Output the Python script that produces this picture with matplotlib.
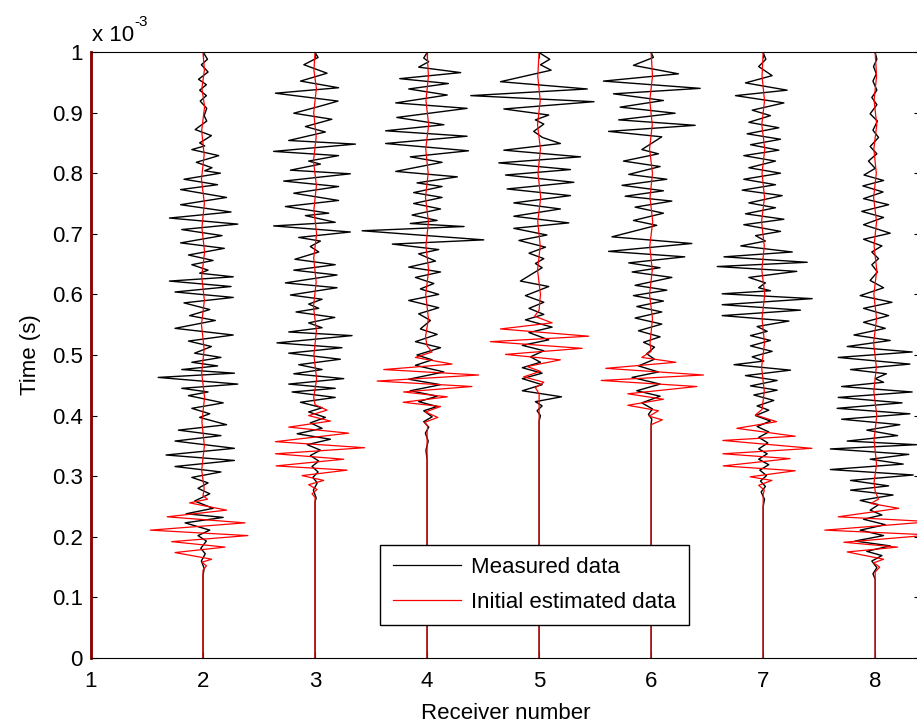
import matplotlib
matplotlib.use('agg')
import matplotlib.pyplot as plt
from matplotlib.lines import Line2D

plt.rcParams['font.family'] = ['Liberation Sans', 'DejaVu Sans']

# receivers and their traces: (time in 1e-3 s, offset from the receiver line)
receivers = [1, 2, 3, 4, 5, 6, 7, 8]

meas_1 = [(0.0, 0.0), (1.0, 0.0)]
est_1 = [(0.0, 0.0), (1.0, 0.0)]

meas_2 = [(1.000, 0), (0.988, 0.04), (0.979, -0.015), (0.967, 0.045), (0.955, -0.04), (0.946, 0.03),
          (0.937, -0.03), (0.928, 0.03), (0.919, -0.025), (0.907, 0.033), (0.895, 0.01), (0.886, 0.033),
          (0.872, -0.07), (0.862, 0.075), (0.850, -0.03), (0.845, 0.015), (0.839, -0.10), (0.829, 0.14),
          (0.818, -0.06), (0.809, 0.08), (0.804, 0.015), (0.800, 0.155), (0.790, -0.17), (0.781, 0.13),
          (0.773, -0.20), (0.760, 0.21), (0.748, -0.20), (0.736, 0.25), (0.726, -0.30), (0.716, 0.31),
          (0.707, -0.19), (0.697, 0.17), (0.685, -0.20), (0.676, 0.19), (0.665, -0.13), (0.656, 0.09),
          (0.649, -0.10), (0.640, 0.045), (0.635, -0.03), (0.629, 0.27), (0.622, -0.30), (0.613, 0.25),
          (0.604, -0.25), (0.595, 0.27), (0.586, -0.17), (0.575, 0.06), (0.565, -0.12), (0.557, 0.11),
          (0.544, -0.25), (0.533, 0.27), (0.523, -0.13), (0.514, 0.075), (0.503, -0.075), (0.496, 0.16),
          (0.488, -0.10), (0.482, 0.13), (0.476, -0.19), (0.470, 0.28), (0.463, -0.40), (0.452, 0.31),
          (0.445, -0.19), (0.439, 0.045), (0.433, -0.13), (0.421, 0.18), (0.412, -0.10), (0.403, 0.06),
          (0.397, -0.03), (0.385, 0.21), (0.376, -0.22), (0.367, 0.16), (0.358, -0.25), (0.346, 0.28),
          (0.335, -0.33), (0.326, 0.28), (0.316, -0.25), (0.307, 0.16), (0.298, -0.10), (0.289, 0.045),
          (0.280, -0.045), (0.271, 0.06), (0.259, -0.075), (0.247, 0.09), (0.238, -0.15), (0.232, 0.18),
          (0.223, -0.16), (0.211, 0.06), (0.202, -0.045), (0.193, 0.03), (0.181, -0.02), (0.172, 0.02),
          (0.160, -0.015), (0.148, 0.01), (0.136, 0), (0.0, 0)]

meas_3 = [(0.999, 0), (0.991, 0.027), (0.979, -0.10), (0.965, 0.107), (0.952, -0.13), (0.941, 0.21),
          (0.932, -0.354), (0.919, 0.205), (0.910, 0.033), (0.899, -0.19), (0.889, 0.15), (0.877, -0.086),
          (0.868, 0.092), (0.854, -0.235), (0.848, 0.36), (0.836, -0.37), (0.829, 0.21), (0.820, -0.057),
          (0.815, 0.048), (0.805, -0.22), (0.799, 0.315), (0.787, -0.28), (0.778, 0.21), (0.767, -0.19),
          (0.755, 0.21), (0.745, -0.265), (0.734, 0.122), (0.730, -0.086), (0.719, 0.18), (0.713, -0.37),
          (0.703, 0.315), (0.694, -0.146), (0.688, 0.048), (0.679, -0.042), (0.670, 0.033), (0.658, -0.18),
          (0.649, 0.18), (0.640, -0.19), (0.632, 0.196), (0.619, -0.265), (0.611, 0.196), (0.599, -0.22),
          (0.592, 0.063), (0.584, -0.057), (0.577, 0.033), (0.571, -0.17), (0.562, 0.176), (0.553, -0.057),
          (0.545, 0.063), (0.538, -0.235), (0.532, 0.33), (0.520, -0.34), (0.512, 0.24), (0.503, -0.235),
          (0.493, 0.226), (0.484, -0.146), (0.476, 0.063), (0.469, -0.19), (0.461, 0.256), (0.452, -0.235),
          (0.445, 0.18), (0.439, -0.205), (0.430, 0.18), (0.422, -0.13), (0.413, 0.063), (0.406, -0.057),
          (0.397, 0.092), (0.388, -0.042), (0.379, 0.063), (0.370, -0.16), (0.361, 0.137), (0.352, -0.07),
          (0.343, 0.048), (0.334, -0.042), (0.325, 0.033), (0.316, -0.027), (0.307, 0.027), (0.298, -0.02),
          (0.289, 0.02), (0.277, -0.015), (0.264, 0.01), (0.258, 0), (0.0, 0)]

meas_4 = [(0.999, 0), (0.990, -0.03), (0.984, 0.015), (0.975, -0.075), (0.966, 0.30), (0.956, -0.244),
          (0.948, 0.19), (0.939, -0.164), (0.929, 0.18), (0.916, -0.28), (0.907, 0.357), (0.892, -0.27),
          (0.880, 0.15), (0.870, -0.37), (0.861, 0.357), (0.849, -0.37), (0.837, 0.37), (0.827, -0.15),
          (0.818, 0.134), (0.803, -0.28), (0.794, 0.27), (0.784, -0.09), (0.778, 0.134), (0.768, -0.12),
          (0.760, 0.134), (0.750, -0.12), (0.741, 0.12), (0.731, -0.134), (0.722, 0.09), (0.717, -0.15),
          (0.712, 0.33), (0.705, -0.58), (0.690, 0.506), (0.683, -0.31), (0.674, 0.104), (0.667, -0.075),
          (0.655, 0.075), (0.645, -0.164), (0.637, 0.12), (0.628, -0.104), (0.618, 0.06), (0.609, -0.06),
          (0.600, 0.104), (0.590, -0.164), (0.578, 0.104), (0.568, -0.075), (0.557, 0.03), (0.543, -0.06),
          (0.534, 0.09), (0.522, -0.104), (0.512, 0.12), (0.500, -0.09), (0.492, 0.045), (0.483, -0.104),
          (0.472, 0.15), (0.460, -0.164), (0.451, 0.12), (0.441, -0.15), (0.432, 0.09), (0.423, -0.075),
          (0.415, 0.09), (0.408, -0.03), (0.398, 0.045), (0.390, -0.03), (0.381, 0.015), (0.371, -0.015),
          (0.358, 0.01), (0.343, -0.01), (0.327, 0), (0.0, 0)]

meas_5 = [(0.999, 0), (0.988, 0.095), (0.979, 0.012), (0.970, 0.107), (0.951, -0.345), (0.939, 0.43),
          (0.928, -0.61), (0.918, 0.49), (0.906, -0.315), (0.896, 0.086), (0.888, -0.033), (0.881, 0.042),
          (0.869, -0.048), (0.859, 0.03), (0.849, 0.19), (0.838, -0.315), (0.827, 0.37), (0.817, -0.36),
          (0.806, 0.28), (0.797, -0.30), (0.785, 0.31), (0.774, -0.286), (0.763, 0.28), (0.751, -0.226),
          (0.741, 0.19), (0.729, -0.226), (0.718, 0.265), (0.709, -0.226), (0.698, 0.07), (0.689, -0.18),
          (0.678, 0.057), (0.668, -0.09), (0.659, 0.042), (0.651, -0.033), (0.644, 0.027), (0.622, -0.167),
          (0.613, 0.086), (0.598, -0.122), (0.587, 0.042), (0.577, -0.09), (0.567, 0.042), (0.558, -0.122),
          (0.546, 0.116), (0.537, -0.09), (0.525, 0.086), (0.516, -0.15), (0.507, 0.042), (0.497, -0.077),
          (0.488, 0.012), (0.479, -0.15), (0.470, 0.027), (0.461, -0.15), (0.451, 0.027), (0.441, -0.15),
          (0.431, 0.20), (0.423, -0.033), (0.416, 0.027), (0.408, -0.018), (0.400, 0.012), (0.391, 0),
          (0.0, 0)]

meas_6 = [(0.999, 0), (0.991, 0.02), (0.978, -0.158), (0.964, 0.244), (0.952, -0.426), (0.940, 0.4375),
          (0.931, -0.336), (0.920, 0.11), (0.909, -0.277), (0.899, 0.214), (0.888, -0.29), (0.879, 0.393),
          (0.869, -0.38), (0.860, 0.095), (0.839, -0.083), (0.832, 0.065), (0.820, -0.247), (0.811, 0.08),
          (0.798, -0.20), (0.790, 0.14), (0.780, -0.26), (0.771, 0.11), (0.762, -0.232), (0.754, 0.185),
          (0.744, -0.143), (0.734, 0.11), (0.722, -0.158), (0.714, 0.05), (0.695, -0.35), (0.684, 0.363),
          (0.671, -0.38), (0.662, 0.30), (0.652, -0.20), (0.644, 0.08), (0.637, -0.17), (0.628, 0.185),
          (0.615, -0.143), (0.607, 0.14), (0.598, -0.158), (0.589, 0.11), (0.580, -0.128), (0.571, 0.095),
          (0.561, -0.143), (0.551, 0.095), (0.540, -0.113), (0.530, 0.08), (0.521, -0.068), (0.513, 0.03),
          (0.502, -0.039), (0.493, 0.03), (0.482, -0.113), (0.472, 0.065), (0.463, -0.17), (0.452, 0.08),
          (0.441, -0.128), (0.432, 0.08), (0.421, -0.083), (0.411, 0.012), (0.402, -0.024), (0.394, 0.006),
          (0.387, 0), (0.0, 0)]

meas_7 = [(0.999, 0), (0.988, 0.024), (0.976, -0.04), (0.961, 0.08), (0.949, -0.158), (0.937, 0.214),
          (0.928, -0.247), (0.916, 0.185), (0.904, -0.098), (0.895, 0.065), (0.884, -0.128), (0.875, 0.14),
          (0.865, -0.143), (0.856, 0.155), (0.847, -0.113), (0.838, 0.14), (0.829, -0.173), (0.820, 0.11),
          (0.809, -0.128), (0.800, 0.155), (0.790, -0.173), (0.781, 0.11), (0.772, -0.1875), (0.763, 0.17),
          (0.751, -0.128), (0.743, 0.11), (0.733, -0.158), (0.724, 0.185), (0.715, -0.173), (0.704, 0.155),
          (0.697, -0.068), (0.688, 0.02), (0.680, -0.20), (0.670, 0.26), (0.662, -0.35), (0.653, 0.393),
          (0.646, -0.41), (0.638, 0.30), (0.628, -0.128), (0.619, 0.02), (0.611, -0.04), (0.606, 0.065),
          (0.601, -0.366), (0.593, 0.4375), (0.583, -0.366), (0.574, 0.333), (0.565, -0.366), (0.556, 0.23),
          (0.547, -0.054), (0.539, 0.036), (0.532, -0.113), (0.524, 0.065), (0.515, -0.113), (0.506, 0.08),
          (0.497, -0.098), (0.490, 0.006), (0.484, -0.26), (0.475, 0.244), (0.466, -0.158), (0.458, 0.125),
          (0.449, -0.113), (0.442, 0.125), (0.434, -0.083), (0.425, 0.095), (0.416, -0.054), (0.409, 0.05),
          (0.400, -0.068), (0.391, 0.065), (0.382, -0.054), (0.373, 0.05), (0.364, -0.04), (0.355, 0.042),
          (0.345, -0.04), (0.337, 0.036), (0.328, -0.04), (0.319, 0.05), (0.310, -0.03), (0.301, 0.03),
          (0.292, -0.024), (0.283, 0.02), (0.274, -0.018), (0.262, 0.012), (0.250, 0), (0.0, 0)]

meas_8 = [(0.999, 0), (0.988, 0.015), (0.976, -0.015), (0.964, 0.01), (0.952, -0.02), (0.937, 0.015),
          (0.925, -0.03), (0.913, 0.015), (0.898, -0.045), (0.886, 0.02), (0.871, -0.02), (0.859, 0.03),
          (0.844, -0.045), (0.832, 0.015), (0.820, -0.06), (0.808, 0.0), (0.797, -0.10), (0.788, 0.075),
          (0.779, -0.11), (0.769, 0.07), (0.758, -0.104), (0.748, 0.12), (0.737, -0.12), (0.727, 0.075),
          (0.715, -0.104), (0.701, 0.134), (0.691, -0.104), (0.680, 0.06), (0.670, -0.03), (0.659, 0.03),
          (0.649, -0.03), (0.637, 0.02), (0.623, -0.045), (0.611, 0.075), (0.598, -0.134), (0.587, 0.15),
          (0.577, -0.104), (0.565, 0.12), (0.554, -0.104), (0.544, 0.09), (0.533, -0.19), (0.524, 0.134),
          (0.514, -0.25), (0.505, 0.33), (0.496, -0.33), (0.485, 0.31), (0.476, -0.22), (0.469, 0.10),
          (0.461, 0.0), (0.455, 0.075), (0.448, -0.30), (0.439, 0.33), (0.430, -0.33), (0.421, 0.24),
          (0.412, -0.34), (0.403, 0.31), (0.394, -0.30), (0.385, 0.22), (0.376, -0.075), (0.367, 0.20),
          (0.358, -0.25), (0.352, 0.37), (0.345, -0.40), (0.336, 0.30), (0.328, -0.045), (0.320, 0.25),
          (0.311, -0.40), (0.302, 0.34), (0.293, -0.22), (0.284, 0.12), (0.277, -0.22), (0.269, 0.16),
          (0.260, -0.134), (0.253, 0.03), (0.244, -0.045), (0.236, 0.06), (0.229, -0.104), (0.220, 0.09),
          (0.211, -0.134), (0.202, 0.075), (0.193, -0.18), (0.185, 0.134), (0.176, -0.075), (0.169, 0.06),
          (0.160, -0.03), (0.149, 0.015), (0.139, -0.02), (0.130, 0), (0.0, 0)]

est_2 = [(1.0, 0), (0.97, 0.012), (0.94, -0.01), (0.91, 0.014), (0.87, -0.012), (0.83, 0.01), (0.79, -0.014),
         (0.75, 0.012), (0.71, -0.01), (0.67, 0.014), (0.63, -0.012), (0.59, 0.012), (0.55, -0.014),
         (0.51, 0.01), (0.47, -0.012), (0.43, 0.014), (0.39, -0.01), (0.35, 0.012), (0.31, -0.012),
         (0.28, 0.01), (0.268, 0.0), (0.262, 0.04), (0.256, -0.12), (0.244, 0.21), (0.233, -0.32),
         (0.223, 0.375), (0.211, -0.47), (0.202, 0.40), (0.192, -0.28), (0.183, 0.196), (0.174, -0.25),
         (0.163, 0.077), (0.158, -0.01), (0.152, 0.03), (0.145, 0), (0.0, 0)]

est_3 = [(1.0, 0), (0.97, -0.01), (0.94, 0.012), (0.90, -0.012), (0.86, 0.01), (0.82, -0.014), (0.78, 0.012),
         (0.74, -0.01), (0.70, 0.014), (0.66, -0.012), (0.62, 0.01), (0.58, -0.014), (0.54, 0.012),
         (0.50, -0.01), (0.46, 0.014), (0.43, -0.012), (0.418, 0), (0.409, 0.107), (0.400, -0.057),
         (0.391, 0.137), (0.381, -0.235), (0.371, 0.30), (0.357, -0.354), (0.347, 0.443), (0.337, -0.354),
         (0.328, 0.256), (0.317, -0.348), (0.310, 0.286), (0.301, -0.116), (0.293, 0.077), (0.286, -0.057),
         (0.278, 0.018), (0.271, -0.027), (0.265, 0), (0.0, 0)]

est_4 = [(1.0, 0), (0.96, 0.012), (0.92, -0.01), (0.88, 0.014), (0.84, -0.012), (0.80, 0.01), (0.76, -0.014),
         (0.72, 0.012), (0.68, -0.01), (0.64, 0.014), (0.60, -0.012), (0.56, 0.012), (0.53, -0.014),
         (0.515, 0), (0.505, 0.045), (0.496, -0.104), (0.485, 0.223), (0.476, -0.387), (0.467, 0.46),
         (0.457, -0.446), (0.448, 0.40), (0.439, -0.21), (0.431, 0.18), (0.422, -0.214), (0.415, 0.12),
         (0.406, -0.015), (0.397, 0.095), (0.389, -0.02), (0.382, 0.006), (0.373, 0), (0.0, 0)]

est_5 = [(1.0, 0), (0.96, -0.012), (0.92, 0.01), (0.88, -0.014), (0.84, 0.012), (0.80, -0.01), (0.76, 0.014),
         (0.72, -0.012), (0.68, 0.01), (0.64, -0.014), (0.60, 0.012), (0.574, 0), (0.564, -0.04),
         (0.553, 0.116), (0.543, -0.345), (0.531, 0.443), (0.522, -0.435), (0.511, 0.384), (0.501, -0.30),
         (0.492, 0.19), (0.481, -0.107), (0.473, 0.012), (0.464, -0.137), (0.455, 0.042), (0.446, -0.033),
         (0.436, 0), (0.0, 0)]

est_6 = [(1.0, 0), (0.96, 0.012), (0.92, -0.012), (0.88, 0.01), (0.84, -0.014), (0.80, 0.012), (0.76, -0.01),
         (0.72, 0.014), (0.68, -0.012), (0.64, 0.01), (0.60, -0.014), (0.56, 0.012), (0.52, -0.01),
         (0.506, 0), (0.496, -0.083), (0.488, 0.22), (0.478, -0.405), (0.467, 0.467), (0.458, -0.446),
         (0.448, 0.408), (0.436, -0.208), (0.427, 0.11), (0.417, -0.208), (0.408, 0.065), (0.399, -0.018),
         (0.393, 0.10), (0.385, 0), (0.0, 0)]

est_7 = [(1.0, 0), (0.96, -0.01), (0.92, 0.012), (0.88, -0.012), (0.84, 0.014), (0.80, -0.01), (0.76, 0.012),
         (0.72, -0.014), (0.68, 0.01), (0.64, -0.012), (0.60, 0.014), (0.56, -0.01), (0.52, 0.012),
         (0.48, -0.014), (0.44, 0.01), (0.41, -0.01), (0.401, -0.07), (0.390, 0.12), (0.379, -0.235),
         (0.366, 0.286), (0.359, -0.36), (0.346, 0.435), (0.337, -0.36), (0.329, 0.24), (0.317, -0.357),
         (0.309, 0.286), (0.299, -0.116), (0.293, 0.078), (0.285, -0.04), (0.277, 0.01), (0.270, 0), (0.0, 0)]

est_8 = [(1.0, 0), (0.96, 0.012), (0.92, -0.01), (0.88, 0.014), (0.84, -0.012), (0.80, 0.01), (0.76, -0.014),
         (0.72, 0.012), (0.68, -0.01), (0.64, 0.014), (0.60, -0.012), (0.56, 0.012), (0.52, -0.014),
         (0.48, 0.01), (0.44, -0.012), (0.40, 0.014), (0.36, -0.01), (0.32, 0.012), (0.29, -0.01),
         (0.275, 0), (0.262, 0.03), (0.255, -0.04), (0.247, 0.21), (0.233, -0.33), (0.225, 0.50),
         (0.211, -0.45), (0.203, 0.50), (0.191, -0.28), (0.183, 0.20), (0.175, -0.25), (0.163, 0.075),
         (0.157, -0.015), (0.150, 0.04), (0.142, 0), (0.0, 0)]

measured = [meas_1, meas_2, meas_3, meas_4, meas_5, meas_6, meas_7, meas_8]
estimated = [est_1, est_2, est_3, est_4, est_5, est_6, est_7, est_8]

y_ticks = [0, 0.1, 0.2, 0.3, 0.4, 0.5, 0.6, 0.7, 0.8, 0.9, 1.0]
y_labels = ['0', '0.1', '0.2', '0.3', '0.4', '0.5', '0.6', '0.7', '0.8', '0.9', '1']

fs = 16

fig = plt.figure(figsize=(9.17, 7.26), dpi=100)
ax = fig.add_axes([91 / 917, 1 - 658 / 726, 829 / 917, 606 / 726])

for r, pts in zip(receivers, measured):
    ax.plot([r + p[1] for p in pts], [p[0] * 1e-3 for p in pts], color='black', lw=1.0,
            clip_on=(r != 1))
for r, pts in zip(receivers, estimated):
    ax.plot([r + p[1] for p in pts], [p[0] * 1e-3 for p in pts], color='red', lw=0.9,
            clip_on=(r != 1))

ax.set_xlim(1, 8.4)
ax.set_ylim(0, 1e-3)
ax.set_xticks(receivers)
ax.set_yticks([v * 1e-3 for v in y_ticks])
ax.set_yticklabels(y_labels)
ax.tick_params(direction='in', top=True, right=True, length=4.5, width=0.8, labelsize=fs)
ax.tick_params(axis='y', pad=6)
ax.tick_params(axis='x', pad=9.5)
ax.spines['left'].set_color('#8b0000')
ax.spines['left'].set_linewidth(2)

ax.set_xlabel('Receiver number', fontsize=fs, labelpad=7.5)
ax.set_ylabel('Time (s)', fontsize=fs, labelpad=8)

fig.text(92 / 917, 1 - 41 / 726, 'x 10', fontsize=fs, va='baseline')
fig.text(134 / 917, 1 - 26 / 726, '-3', fontsize=11, va='baseline')

handles = [Line2D([], [], color='black', lw=0.9), Line2D([], [], color='red', lw=0.9)]
leg = ax.legend(handles, ['Measured data', 'Initial estimated data'], loc='lower left',
                bbox_to_anchor=(0.349, 0.054), borderaxespad=0, fancybox=False, framealpha=1,
                edgecolor='black', fontsize=fs, handlelength=3.1, handletextpad=0.45,
                borderpad=0.55, labelspacing=0.62)
leg.get_frame().set_linewidth(1.0)

fig.savefig('out.png', dpi=100)
